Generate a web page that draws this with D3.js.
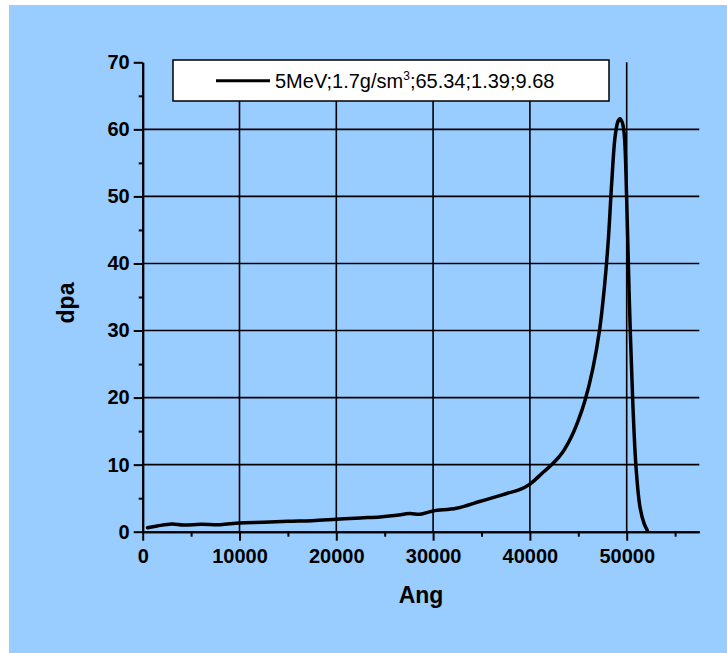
<!DOCTYPE html>
<html>
<head>
<meta charset="utf-8">
<script src="https://cdn.jsdelivr.net/npm/d3@7"></script>
<style>
  body { margin: 0; background: #ffffff; }
  svg { display: block; font-family: "Liberation Sans", Arial, sans-serif; }
</style>
</head>
<body>
<svg id="canvas" width="727" height="653"></svg>
<script>
'use strict';

// depth into the target (Angstrom) and damage (dpa)
var depth = [500, 1500, 3000, 4200, 6000, 8000, 10000, 12500, 15000, 17500,
  20000, 22500, 24500, 26000, 27600, 28650, 30000, 32400, 34800, 36000,
  37600, 39000, 40000, 41400, 42400, 43400, 44300, 45000, 45700, 46500,
  47200, 47700, 48100, 48450, 48800, 49100, 49300, 49550, 49750, 50000,
  50270, 50620, 50960, 51370, 51800, 52130];
var dpa = [0.6, 0.85, 1.15, 1.0, 1.1, 1.05, 1.3, 1.4, 1.55, 1.65,
  1.85, 2.05, 2.2, 2.4, 2.7, 2.6, 3.1, 3.5, 4.5, 5.0,
  5.7, 6.3, 7.1, 8.9, 10.2, 11.9, 14.2, 16.6, 19.6, 24.3,
  30.1, 36.5, 43.5, 52.0, 58.9, 61.2, 61.6, 61.0, 59.2, 49.5,
  34.6, 19.6, 9.7, 3.7, 1.2, 0.2];

var xMajor = [0, 10000, 20000, 30000, 40000, 50000];
var xMinor = [5000, 15000, 25000, 35000, 45000, 55000];
var yMajor = [0, 10, 20, 30, 40, 50, 60, 70];
var yMinor = [5, 15, 25, 35, 45, 55, 65];
var xGrid = [10000, 20000, 30000, 40000, 50000];
var yGrid = [10, 20, 30, 40, 50, 60];

var seriesName = '5MeV;1.7g/sm';

// plot frame inside the svg
var frame = {left: 142.7, right: 699.3, top: 62.3, bottom: 531.7};

var svg = d3.select('svg#canvas');

/* light blue page behind the graph */
svg.append('rect')
  .attr('x', 9).attr('y', 5)
  .attr('width', 718).attr('height', 648)
  .attr('fill', '#99ccff');

var x = d3.scaleLinear().domain([0, 57500]).range([frame.left, frame.right]);
var y = d3.scaleLinear().domain([0, 70]).range([frame.bottom, frame.top]);

/* grid lines */
var grid = svg.append('g').attr('id', 'grid')
  .attr('stroke', '#000').attr('stroke-width', 1.6);
grid.selectAll('line.v').data(xGrid).join('line')
  .attr('class', 'v')
  .attr('x1', d => x(d)).attr('x2', d => x(d))
  .attr('y1', y(0)).attr('y2', y(70));
grid.selectAll('line.h').data(yGrid).join('line')
  .attr('class', 'h')
  .attr('x1', x(0)).attr('x2', x(57500))
  .attr('y1', d => y(d)).attr('y2', d => y(d));

/* axes: major ticks with labels, minor ticks without */
function styleAxis(g){
  g.selectAll('path, line').attr('stroke', '#000').attr('stroke-width', 2);
  g.selectAll('text')
    .attr('fill', '#000')
    .style('font-size', '20px')
    .style('font-weight', 'bold')
    .style('font-family', '"Liberation Sans", Arial, sans-serif');
}

svg.append('g')
  .attr('transform', 'translate(0,' + frame.bottom + ')')
  .call(d3.axisBottom(x).tickValues(xMinor).tickSize(5).tickSizeOuter(0).tickFormat(''))
  .call(styleAxis);
svg.append('g')
  .attr('transform', 'translate(0,' + frame.bottom + ')')
  .call(d3.axisBottom(x).tickValues(xMajor).tickSize(9).tickSizeOuter(0).tickPadding(8).tickFormat(d3.format('d')))
  .call(styleAxis)
  .call(g => g.selectAll('text').attr('dy', '0.71em').attr('y', 17));

svg.append('g')
  .attr('transform', 'translate(' + frame.left + ',0)')
  .call(d3.axisLeft(y).tickValues(yMinor).tickSize(4).tickSizeOuter(0).tickFormat(''))
  .call(styleAxis);
svg.append('g')
  .attr('transform', 'translate(' + frame.left + ',0)')
  .call(d3.axisLeft(y).tickValues(yMajor).tickSize(9).tickSizeOuter(0).tickPadding(4).tickFormat(d3.format('d')))
  .call(styleAxis);

/* axis titles */
svg.append('text')
  .attr('x', (frame.left + frame.right) / 2).attr('y', 603)
  .attr('text-anchor', 'middle')
  .style('font-size', '23px').style('font-weight', 'bold')
  .text('Ang');
svg.append('text')
  .attr('transform', 'translate(74,' + ((frame.top + frame.bottom) / 2 + 6) + ') rotate(-90)')
  .attr('text-anchor', 'middle')
  .style('font-size', '23px').style('font-weight', 'bold')
  .text('dpa');

/* the dpa curve */
var points = depth.map((d, i) => [d, dpa[i]]);
var line = d3.line()
  .x(d => x(d[0]))
  .y(d => y(d[1]))
  .curve(d3.curveCatmullRom.alpha(0.5));
svg.append('path')
  .datum(points)
  .attr('d', line)
  .attr('fill', 'none')
  .attr('stroke', '#000')
  .attr('stroke-width', 3.5)
  .attr('stroke-linejoin', 'round')
  .attr('stroke-linecap', 'round');

/* legend box */
var legend = svg.append('g').attr('id', 'legend');
legend.append('rect')
  .attr('x', 173).attr('y', 60)
  .attr('width', 436).attr('height', 41)
  .attr('fill', '#fff').attr('stroke', '#000').attr('stroke-width', 1.5);
legend.append('line')
  .attr('x1', 216).attr('x2', 270)
  .attr('y1', 80.7).attr('y2', 80.7)
  .attr('stroke', '#000').attr('stroke-width', 3);
var label = legend.append('text')
  .attr('x', 275).attr('y', 88)
  .style('font-size', '20px');
label.append('tspan').text(seriesName);
label.append('tspan').attr('dy', -8).style('font-size', '12px').text('3');
label.append('tspan').attr('dy', 8).text(';65.34;1.39;9.68');
</script>
</body>
</html>
